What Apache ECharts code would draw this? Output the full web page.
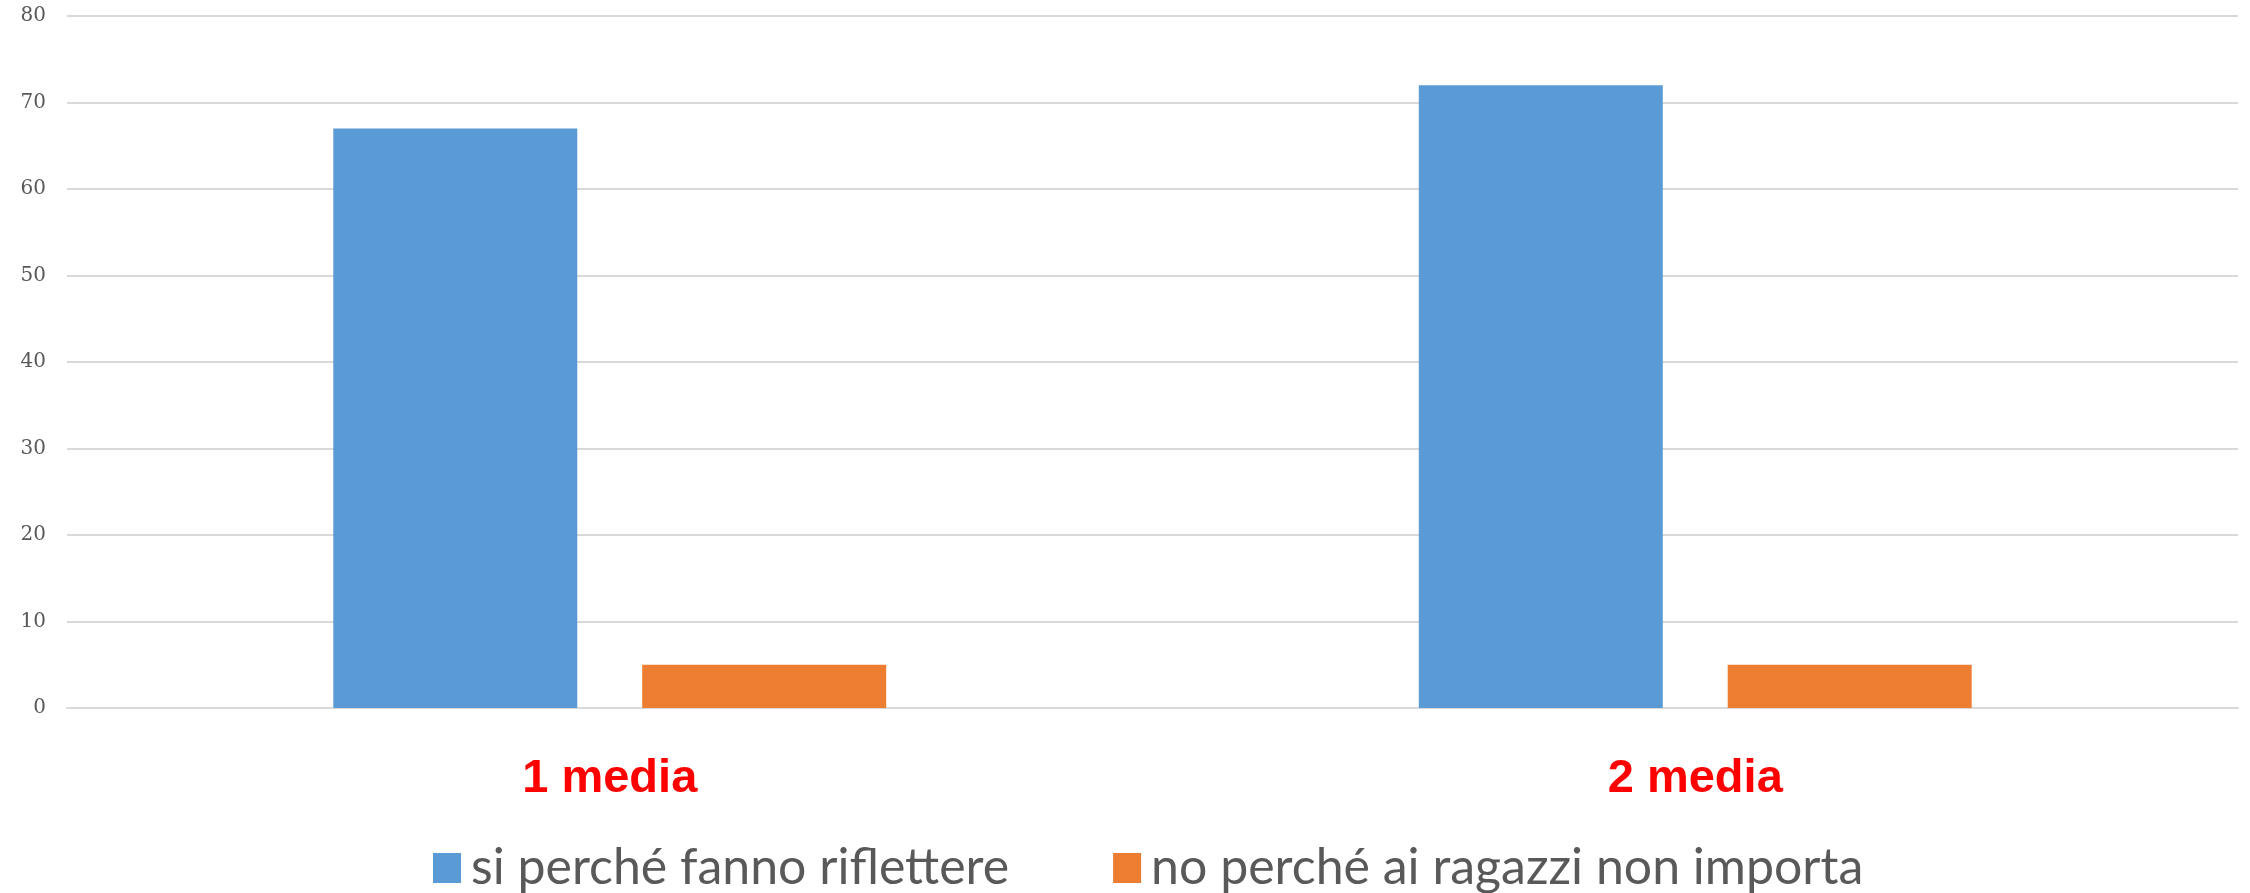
<!DOCTYPE html>
<html>
<head>
<meta charset="utf-8">
<script src="https://cdn.jsdelivr.net/npm/echarts@6/dist/echarts.min.js"></script>
<style>
  html, body { margin: 0; padding: 0; background: #fff; }
  #chart { width: 2250px; height: 893px; }
</style>
</head>
<body>
<div id="chart"></div>
<script>
var categories = ["1 media", "2 media"];
var seriesNames = ["si perché fanno riflettere", "no perché ai ragazzi non importa"];
var siValues = [67, 72];
var noValues = [5, 5];
var yTicks = { min: 0, max: 80, interval: 10 };

var chart = echarts.init(document.getElementById("chart"));
chart.setOption({
    animation: false,
    color: ["#5b9bd5", "#ed7d31"],
    grid: { left: 67, right: 12, top: 16, bottom: 185 },
    legend: {
        data: seriesNames,
        left: 428,
        top: 838,
        itemWidth: 28,
        itemHeight: 30,
        itemGap: 104,
        icon: "rect",
        textStyle: { fontFamily: "Lato", fontSize: 50, color: "#595959", padding: [0, 0, 0, 5] }
    },
    xAxis: {
        type: "category",
        data: categories,
        axisTick: { show: false },
        axisLine: { lineStyle: { color: "#d9d9d9", width: 2 } },
        axisLabel: {
            margin: 48,
            color: "#ff0000",
            fontWeight: "bold",
            fontSize: 47,
            fontFamily: "Liberation Sans"
        }
    },
    yAxis: {
        type: "value",
        min: yTicks.min,
        max: yTicks.max,
        interval: yTicks.interval,
        axisLine: { show: false },
        axisTick: { show: false },
        splitLine: { lineStyle: { color: "#d9d9d9", width: 2 } },
        axisLabel: { margin: 21, color: "#595959", fontSize: 20, fontFamily: "DejaVu Serif" }
    },
    series: [
        { name: seriesNames[0], type: "bar", data: siValues, barWidth: 244, barGap: "26.6%" },
        { name: seriesNames[1], type: "bar", data: noValues, barWidth: 244 }
    ]
});
</script>
</body>
</html>
